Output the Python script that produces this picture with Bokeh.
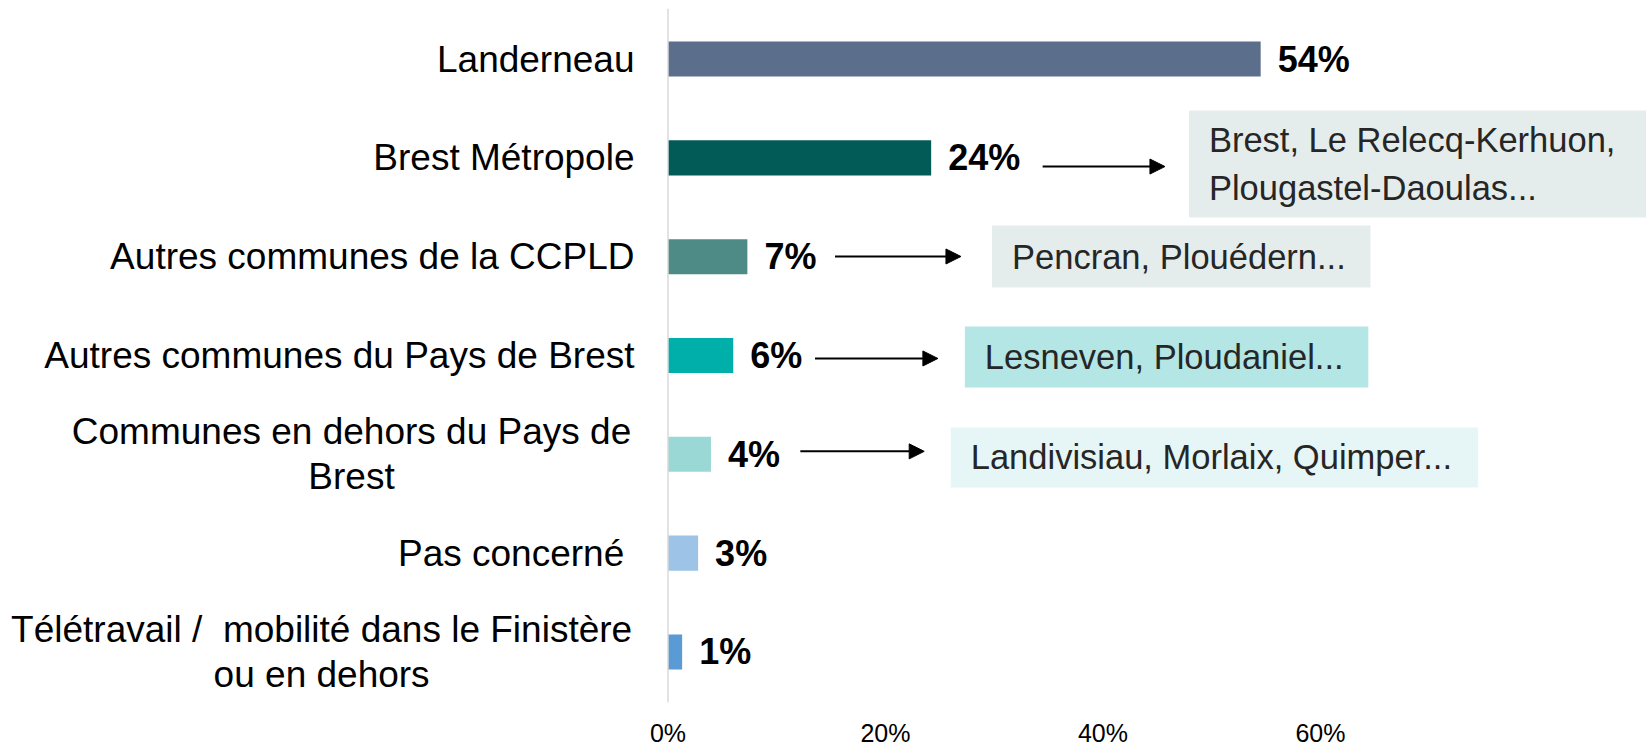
from bokeh.plotting import figure
from bokeh.models import Range1d, FixedTicker, Span, Arrow, NormalHead, ColumnDataSource
from bokeh.core.properties import value
from bokeh.embed import file_html
from bokeh.resources import INLINE

# ---------------- data ----------------
categories = [
    "Landerneau",
    "Brest Métropole",
    "Autres communes de la CCPLD",
    "Autres communes du Pays de Brest",
    "Communes en dehors du Pays de\nBrest",
    "Pas concerné\u00a0",
    "Télétravail /\u00a0 mobilité dans le Finistère\nou en dehors",
]
values = [54.5, 24.2, 7.3, 6.0, 3.95, 2.77, 1.3]
value_labels = ["54%", "24%", "7%", "6%", "4%", "3%", "1%"]
x_ticks = [0, 20, 40, 60]
tick_labels = ["0%", "20%", "40%", "60%"]

example_rows = [1, 2, 3, 4]
example_texts = [
    "Brest, Le Relecq-Kerhuon,\nPlougastel-Daoulas...",
    "Pencran, Plouédern...",
    "Lesneven, Ploudaniel...",
    "Landivisiau, Morlaix, Quimper...",
]

# ---------------- styles / layout ----------------
bar_colors = ["#5B6E8C", "#035B57", "#4E8A86", "#00AEAA", "#9AD8D5", "#9DC3E6", "#5B9BD5"]
box_colors = ["#E5EDEC", "#E5EDEC", "#B3E6E4", "#E6F5F5"]
box_left = [47.9, 29.8, 27.3, 26.0]
box_right = [90.0, 64.6, 64.4, 74.5]
box_top = [0.521, 1.685, 2.707, 3.728]
box_bottom = [1.604, 2.312, 3.324, 4.335]
arrow_x0 = [34.45, 15.36, 13.52, 12.17]
arrow_x1 = [45.7, 26.94, 24.82, 23.56]
arrow_y = [1.088, 1.998, 3.03, 3.97]
label_right = -3.08
multiline_center = {4: -29.1, 6: -31.85}

FONT = "Liberation Sans"

rows = list(range(len(categories)))

p = figure(
    frame_width=1646, frame_height=694,
    x_range=Range1d(-61.38, 89.98),
    y_range=Range1d(6.511, -0.511),
    output_backend="svg", toolbar_location=None,
    min_border_left=0, min_border_right=0, min_border_top=8, min_border_bottom=0,
    y_axis_location=None,
)
p.outline_line_color = None
p.xgrid.visible = False
p.ygrid.visible = False
p.background_fill_color = "white"
p.border_fill_color = "white"

# x axis
ax = p.xaxis[0]
ax.ticker = FixedTicker(ticks=x_ticks)
ax.major_label_overrides = {t: l for t, l in zip(x_ticks, tick_labels)}
ax.axis_line_color = None
ax.major_tick_line_color = None
ax.minor_tick_line_color = None
ax.major_label_standoff = 10
ax.major_label_text_font = FONT
ax.major_label_text_font_size = "25px"
ax.major_label_text_color = "#000000"

# vertical zero line
p.add_layout(Span(location=0, dimension="height", line_color="#D9D9D9", line_width=1.5))

# bars
src = ColumnDataSource(dict(y=rows, v=values, c=bar_colors, lab=value_labels))
p.hbar(y="y", left=0, right="v", height=0.355, color="c", line_color=None, source=src)

# value labels
p.text(x="v", y="y", text="lab", source=src, x_offset=17,
       text_font=value(FONT), text_font_size="36px", text_font_style="bold",
       text_color="#000000", text_align="left", text_baseline="middle")

# category labels
single = [i for i, c in enumerate(categories) if "\n" not in c]
multi = [i for i, c in enumerate(categories) if "\n" in c]
p.text(x=[label_right] * len(single), y=[rows[i] for i in single],
       text=[categories[i] for i in single],
       text_font=value(FONT), text_font_size="37px", text_color="#000000",
       text_align="right", text_baseline="middle")
p.text(x=[multiline_center[i] for i in multi], y=[rows[i] for i in multi],
       text=[categories[i] for i in multi],
       text_font=value(FONT), text_font_size="37px", text_color="#000000",
       text_align="center", text_baseline="middle", text_line_height=1.1)

# example boxes
p.quad(left=box_left, right=box_right, top=box_top, bottom=box_bottom,
       fill_color=box_colors, line_color=None)
p.text(x=box_left, y=[(t + b) / 2 for t, b in zip(box_top, box_bottom)],
       text=example_texts, x_offset=20,
       text_font=value(FONT), text_font_size="34.5px", text_color="#262626",
       text_align="left", text_baseline="middle", text_line_height=1.27)

# arrows
for x0, x1, y in zip(arrow_x0, arrow_x1, arrow_y):
    p.add_layout(Arrow(end=NormalHead(size=15, fill_color="black", line_color="black"),
                       x_start=x0, y_start=y, x_end=x1, y_end=y,
                       line_color="black", line_width=2))

open("out.html", "w").write(file_html(p, INLINE))
